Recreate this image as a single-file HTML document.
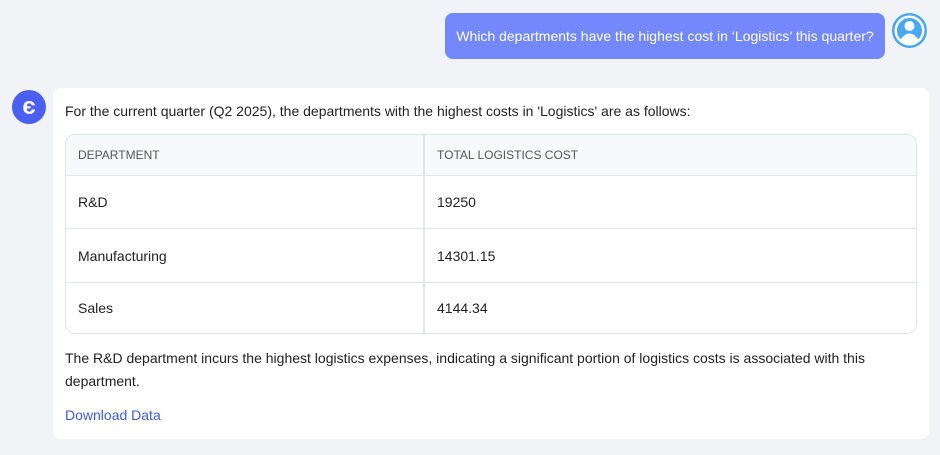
<!DOCTYPE html>
<html><head><meta charset="utf-8"><style>
*{box-sizing:border-box;margin:0;padding:0}
body{width:940px;height:455px;background:#f2f3f7;font-family:"Liberation Sans",sans-serif;color:#222;position:relative;overflow:hidden;font-size:14px}
.bubble{position:absolute;left:445px;top:13px;width:440px;height:46px;background:#7388fc;border-radius:8px;color:#fff;font-size:14px;line-height:46px;text-align:center}
.uav{position:absolute;left:892px;top:13px;width:35px;height:35px;border-radius:50%;background:#4aa8f0;overflow:hidden}
.bav{position:absolute;left:12px;top:90px;width:34px;height:34px;border-radius:50%;background:#4b5ff0;color:#fff;font-weight:bold;font-size:24px;text-align:center;line-height:34px}
.card{position:absolute;left:53px;top:88px;width:876px;height:351px;background:#fff;border-radius:8px}
.p1{position:absolute;left:12px;top:15px;font-size:14px}
table{position:absolute;left:12px;top:46px;width:852px;height:200px;border:1px solid #e2e5ea;border-radius:10px;border-collapse:separate;border-spacing:0;overflow:hidden}
td,th{text-align:left;padding-left:12px;font-size:14px;font-weight:normal;border-bottom:1px solid #e2e5ea}
th{background:#f8f9fb;color:#555;font-size:12px;height:41px}
tr:last-child td{border-bottom:none}
td:first-child,th:first-child{border-right:2px solid #e2e5ea;width:359px}
.p2{position:absolute;left:12px;top:259px;width:856px;line-height:23px}
.dl{position:absolute;left:12px;top:319px;color:#3d5bd9}
</style></head><body>
<div class="bubble">Which departments have the highest cost in ‘Logistics’ this quarter?</div>
<div class="uav"><svg width="35" height="35"><circle cx="17.5" cy="17.5" r="15" fill="#fff"/><circle cx="17.5" cy="17.5" r="12.5" fill="#4aa8f0"/><circle cx="17.5" cy="13" r="5" fill="#fff"/><path d="M8 27 Q17.5 14 27 27 Q17.5 33 8 27Z" fill="#fff"/></svg></div>
<div class="bav">є</div>
<div class="card">
<div class="p1">For the current quarter (Q2 2025), the departments with the highest costs in 'Logistics' are as follows:</div>
<table>
<tr><th>DEPARTMENT</th><th>TOTAL LOGISTICS COST</th></tr>
<tr><td>R&amp;D</td><td>19250</td></tr>
<tr><td>Manufacturing</td><td>14301.15</td></tr>
<tr><td>Sales</td><td>4144.34</td></tr>
</table>
<div class="p2">The R&amp;D department incurs the highest logistics expenses, indicating a significant portion of logistics costs is associated with this department.</div>
<div class="dl">Download Data</div>
</div>
</body></html>
